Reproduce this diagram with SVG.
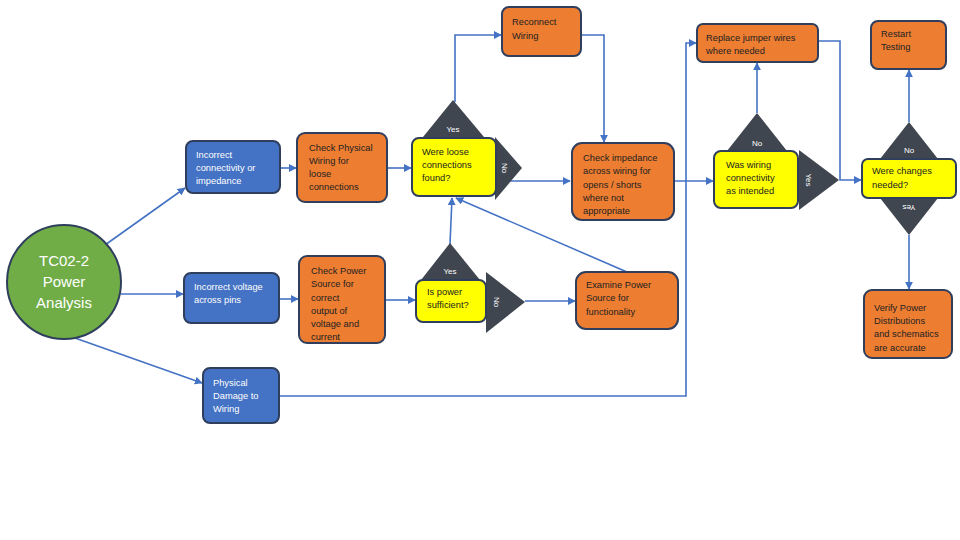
<svg xmlns="http://www.w3.org/2000/svg" width="960" height="540" viewBox="0 0 960 540">
<defs>
<marker id="ar" viewBox="0 0 10 10" refX="9" refY="5" markerWidth="5" markerHeight="5" orient="auto"><path d="M0,0 L10,5 L0,10 z" fill="#4472C4"/></marker>
<style>
.bx{stroke:#2F3E5C;stroke-width:2}
.or{fill:#ED7D31}.bl{fill:#4472C4}.ye{fill:#FFFF00}.tri{fill:#404650}
text{font-family:"Liberation Sans",Arial,sans-serif;font-size:9.3px;fill:#222}
.w{fill:#fff}
.lb{font-size:8px;fill:#fff;text-anchor:middle}
.c line,.c polyline{stroke:#4472C4;stroke-width:1.6;fill:none}
.a{marker-end:url(#ar)}
</style>
</defs>
<rect width="960" height="540" fill="#fff"/>
<g class="c">
<line class="a" x1="105" y1="245" x2="185" y2="188"/>
<line class="a" x1="121" y1="294" x2="183" y2="294"/>
<line class="a" x1="75" y1="338" x2="202" y2="383"/>
<line class="a" x1="280" y1="168" x2="296" y2="168"/>
<line class="a" x1="279" y1="299" x2="298" y2="299"/>
<line class="a" x1="387" y1="168" x2="411" y2="168"/>
<line class="a" x1="385" y1="300" x2="415" y2="300"/>
<polyline class="a" points="455,102 455,35 501,35"/>
<polyline class="a" points="581,35 604,35 604,142"/>
<line class="a" x1="510" y1="181" x2="570" y2="181"/>
<line class="a" x1="450" y1="244" x2="452" y2="198"/>
<line class="a" x1="627" y1="272" x2="456" y2="198"/>
<line class="a" x1="525" y1="301" x2="575" y2="301"/>
<line class="a" x1="674" y1="181" x2="713" y2="181"/>
<polyline class="a" points="279,396 686,396 686,43 696,43"/>
<line class="a" x1="757" y1="113" x2="757" y2="63"/>
<polyline class="a" points="818,41 840,41 840,180 861,180"/>
<line class="a" x1="909" y1="122" x2="909" y2="70"/>
<line class="a" x1="909" y1="235" x2="909" y2="289"/>
</g>
<g id="start"><circle cx="64" cy="282" r="57" fill="#70AD47" stroke="#2F3E5C" stroke-width="2"/>
<text class="w" x="64" y="266" text-anchor="middle" style="font-size:15px">TC02-2</text>
<text class="w" x="64" y="287" text-anchor="middle" style="font-size:15px">Power</text>
<text class="w" x="64" y="308" text-anchor="middle" style="font-size:15px">Analysis</text></g>
<g id="b1"><rect class="bx bl" x="186" y="141" width="94" height="52" rx="7"/><text class="w" x="196" y="158">Incorrect</text><text class="w" x="196" y="171">connectivity or</text><text class="w" x="196" y="184">impedance</text></g>
<g id="b2"><rect class="bx bl" x="184" y="273" width="95" height="50" rx="7"/><text class="w" x="194" y="290">Incorrect voltage</text><text class="w" x="194" y="303">across pins</text></g>
<g id="b3"><rect class="bx bl" x="203" y="368" width="76" height="55" rx="7"/><text class="w" x="213" y="386">Physical</text><text class="w" x="213" y="399">Damage to</text><text class="w" x="213" y="412">Wiring</text></g>
<g id="o1"><rect class="bx or" x="297" y="133" width="90" height="69" rx="8"/><text x="309" y="151">Check Physical</text><text x="309" y="164">Wiring for</text><text x="309" y="177">loose</text><text x="309" y="190">connections</text></g>
<g id="o2"><rect class="bx or" x="299" y="256" width="86" height="87" rx="8"/><text x="311" y="274">Check Power</text><text x="311" y="287">Source for</text><text x="311" y="301">correct</text><text x="311" y="314">output of</text><text x="311" y="327">voltage and</text><text x="311" y="340">current</text></g>
<g id="d1"><polygon class="tri" points="423,137 453,100 484,137"/><polygon class="tri" points="495,137 522,168 495,200"/>
<rect class="bx ye" x="412" y="138" width="84" height="58" rx="7"/>
<text class="lb" x="453" y="132">Yes</text><text class="lb" transform="translate(502,168) rotate(90)">No</text>
<text x="422" y="155">Were loose</text><text x="422" y="168">connections</text><text x="422" y="181">found?</text></g>
<g id="d2"><polygon class="tri" points="421,280 450,243 480,280"/><polygon class="tri" points="486,272 525,302 486,333"/>
<rect class="bx ye" x="416" y="280" width="70" height="42" rx="7"/>
<text class="lb" x="450" y="274">Yes</text><text class="lb" transform="translate(494,302) rotate(90)">No</text>
<text x="427" y="295">Is power</text><text x="427" y="308">sufficient?</text></g>
<g id="o3"><rect class="bx or" x="572" y="143" width="102" height="77" rx="10"/><text x="583" y="161">Check impedance</text><text x="583" y="174">across wiring for</text><text x="583" y="188">opens / shorts</text><text x="583" y="201">where not</text><text x="583" y="214">appropriate</text></g>
<g id="o4"><rect class="bx or" x="576" y="272" width="102" height="57" rx="10"/><text x="586" y="288">Examine Power</text><text x="586" y="301">Source for</text><text x="586" y="315">functionality</text></g>
<g id="d3"><polygon class="tri" points="727,151 757,113 787,151"/><polygon class="tri" points="799,150 839,180 799,210"/>
<rect class="bx ye" x="714" y="151" width="84" height="57" rx="7"/>
<text class="lb" x="757" y="146">No</text><text class="lb" transform="translate(806,180) rotate(90)">Yes</text>
<text x="726" y="168">Was wiring</text><text x="726" y="181">connectivity</text><text x="726" y="194">as intended</text></g>
<g id="d4"><polygon class="tri" points="880,159 909,122 938,159"/><polygon class="tri" points="880,198 909,235 938,198"/>
<rect class="bx ye" x="862" y="159" width="94" height="39" rx="6"/>
<text class="lb" x="909" y="153">No</text><text class="lb" transform="translate(909,205) rotate(180)">Yes</text>
<text x="872" y="174">Were changes</text><text x="872" y="188">needed?</text></g>
<g id="o5"><rect class="bx or" x="502" y="7" width="79" height="49" rx="7"/><text x="512" y="25">Reconnect</text><text x="512" y="39">Wiring</text></g>
<g id="o6"><rect class="bx or" x="697" y="24" width="121" height="38" rx="6"/><text x="706" y="41">Replace jumper wires</text><text x="706" y="54">where needed</text></g>
<g id="o7"><rect class="bx or" x="871" y="21" width="75" height="48" rx="7"/><text x="881" y="37">Restart</text><text x="881" y="50">Testing</text></g>
<g id="o8"><rect class="bx or" x="864" y="290" width="88" height="68" rx="8"/><text x="874" y="311">Verify Power</text><text x="874" y="324">Distributions</text><text x="874" y="337">and schematics</text><text x="874" y="351">are accurate</text></g>
</svg>
